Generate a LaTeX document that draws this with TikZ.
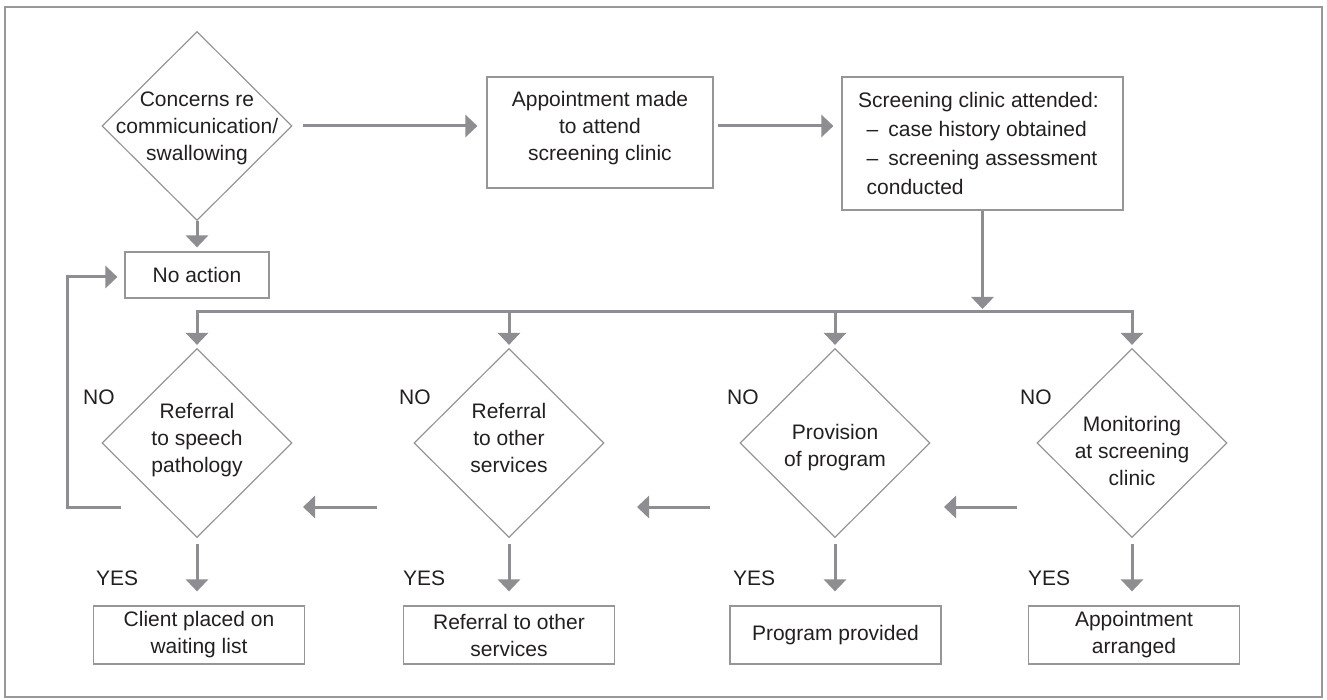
\documentclass[tikz,border=0pt]{standalone}
\usepackage{fontspec}
\setmainfont{Liberation Sans}
\usetikzlibrary{arrows.meta,shapes.geometric,calc}
\definecolor{conngray}{RGB}{141,141,146}
\definecolor{boxgray}{RGB}{150,150,150}
\definecolor{framegray}{RGB}{152,152,156}
\definecolor{inkdark}{RGB}{35,31,32}
\tikzset{
  base/.style={font=\fontsize{21}{27}\selectfont, text=inkdark},
  dia/.style={draw=boxgray, line width=1.2pt, diamond, inner sep=0pt, minimum width=190pt, minimum height=189pt},
  dtext/.style={base, align=center, inner sep=0pt},
  box/.style={base, draw=boxgray, line width=1.2pt, rectangle, align=center, inner sep=0pt},
  lbl/.style={base, inner sep=0pt, anchor=west},
  conn/.style={draw=conngray, line width=3pt},
  arr/.style={conn, -{Triangle[width=22pt,length=12pt]}},
}
\begin{document}
\begin{tikzpicture}[x=1pt,y=-1pt]
\useasboundingbox (0,0) rectangle (1327,700);
\draw[draw=framegray, line width=2.5pt] (5,7) rectangle (1322,697);

% top row
\node[dia] (d1) at (197,126) {};
\node[dtext] at (197,128) {Concerns re\\commicunication/\\swallowing};
\node[box, minimum width=226pt, minimum height=111pt] (b2) at (600,132.5) {};
\node[dtext] at (600,128.5) {Appointment made\\to attend\\screening clinic};
\node[box, minimum width=281pt, minimum height=133pt] (b3) at (982.5,143.5) {};
\node[base, align=left, inner sep=0pt, anchor=west, font=\fontsize{21}{29.3}\selectfont] (b3t) at (858,143.5)
  {Screening clinic attended:\\\hspace*{8.5pt}–\hspace{10pt}case history obtained\\\hspace*{8.5pt}–\hspace{10pt}screening assessment\\\hspace*{8.5pt}conducted};
\node[box, minimum width=144pt, minimum height=46pt] (noact) at (197,275) {No action};

% decision row
\node[dia] (dA) at (197,443) {};
\node[dia] (dB) at (509,443) {};
\node[dia] (dC) at (835,443) {};
\node[dia] (dD) at (1132,443) {};
\node[dtext] at (197,440) {Referral\\to speech\\pathology};
\node[dtext] at (509,438) {Referral\\to other\\services};
\node[dtext] at (835,448) {Provision\\of program};
\node[dtext] at (1132,451) {Monitoring\\at screening\\clinic};

% outcome boxes
\node[box, minimum width=211pt, minimum height=58pt] (bA) at (199,635) {Client placed on\\waiting list};
\node[box, minimum width=211pt, minimum height=58pt] (bB) at (509,635) {Referral to other\\services};
\node[box, minimum width=211pt, minimum height=58pt] (bC) at (835.5,635) {Program provided};
\node[box, minimum width=211pt, minimum height=58pt] (bD) at (1134,635) {Appointment\\arranged};

% labels
\node[lbl] (noA) at (83,397) {NO};
\node[lbl] (noB) at (399,397) {NO};
\node[lbl] (noC) at (727,397) {NO};
\node[lbl] (noD) at (1020,397) {NO};
\node[lbl] (yesA) at (96,578) {YES};
\node[lbl] (yesB) at (403,578) {YES};
\node[lbl] (yesC) at (733,578) {YES};
\node[lbl] (yesD) at (1028,578) {YES};

% connectors, top row
\draw[arr] ([xshift=10pt]d1.east) -- ([xshift=-9pt]b2.west |- d1.east);
\draw[arr] ([xshift=4pt]b2.east |- d1.east) -- ([xshift=-8pt]b3.west |- d1.east);
\draw[arr] (d1.south) -- ([yshift=4pt]noact.north);

% bus
\coordinate (bus3) at (982.5,312);
\coordinate (jA) at (197,312);
\coordinate (jB) at (509,312);
\coordinate (jC) at (835,312);
\coordinate (jD) at (1132,312);
\draw[arr] (b3.south) -- ([yshift=3pt]bus3);
\draw[conn, line cap=rect] (jA) -- (jD);
\draw[arr] (jA) -- ([yshift=3pt]dA.north);
\draw[arr] (jB) -- ([yshift=3pt]dB.north);
\draw[arr] (jC) -- ([yshift=3pt]dC.north);
\draw[arr] (jD) -- ([yshift=3pt]dD.north);

% yes arrows
\draw[arr] ([yshift=-6pt]dA.south) -- ([yshift=14pt]dA.south |- bA.north);
\draw[arr] ([yshift=-6pt]dB.south) -- ([yshift=14pt]dB.south |- bB.north);
\draw[arr] ([yshift=-6pt]dC.south) -- ([yshift=14pt]dC.south |- bC.north);
\draw[arr] ([yshift=-6pt]dD.south) -- ([yshift=14pt]dD.south |- bD.north);

% no arrows
\coordinate (nD1) at (1017,507);
\coordinate (nD2) at (944,507);
\coordinate (nC1) at (710,507);
\coordinate (nC2) at (637,507);
\coordinate (nB1) at (377,507);
\coordinate (nB2) at (303,507);
\coordinate (nA1) at (121,507);
\coordinate (nA2) at (67,507);
\draw[arr] (nD1) -- (nD2);
\draw[arr] (nC1) -- (nC2);
\draw[arr] (nB1) -- (nB2);
\draw[arr] (nA1) -- (nA2) |- ([xshift=-7pt,yshift=-2pt]noact.west);
\end{tikzpicture}
\end{document}
